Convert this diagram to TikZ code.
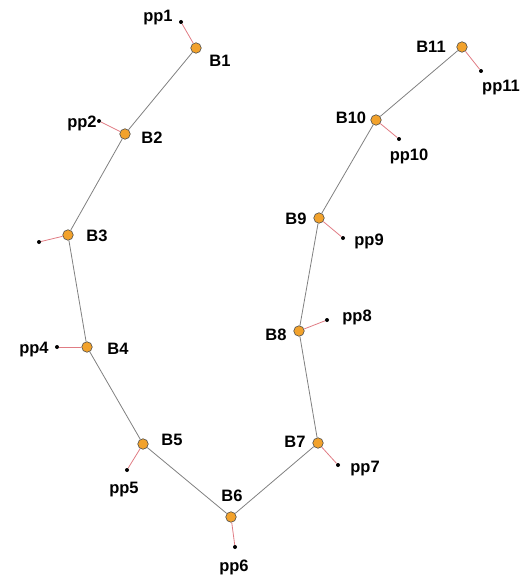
\documentclass[tikz,border=0pt]{standalone}
\usepackage{fontspec}
\setmainfont{Liberation Sans}
\usepackage{xcolor}
\usetikzlibrary{positioning, calc}

\definecolor{busorange}{HTML}{F2A22C}
\definecolor{linkred}{HTML}{E07C84}

\begin{document}
\begin{tikzpicture}[x=1pt, y=-1pt,
    bus/.style={circle, draw=black!70, fill=busorange, line width=0.6pt, inner sep=0pt, minimum size=10.5pt},
    pin/.style={circle, fill=black, inner sep=0pt, minimum size=4pt},
    lab/.style={font=\bfseries\fontsize{16.5}{16.5}\selectfont, inner sep=1pt}]
        \useasboundingbox (0,0) rectangle (525,578);

        \foreach \i/\x/\y in {1/196/48, 2/125/134, 3/68/235, 4/87/347, 5/143/444, 6/231/517,
                              7/318/443, 8/299/331, 9/319/218, 10/376/120, 11/462/47}
            \node[bus] (B\i) at (\x,\y) {};

        \foreach \i/\x/\y in {1/181/22, 2/99/121, 3/39/242, 4/57/347, 5/127/470, 6/235/547,
                              7/338/465, 8/327/320, 9/343/238, 10/399/139, 11/481/71}
            \node[pin] (pp\i) at (\x,\y) {};

        % line between the buses
        \foreach \i [evaluate=\i as \j using int(\i+1)] in {1,...,10}
            \draw[gray, line width=0.8pt] (B\i) -- (B\j);

        % pins to buses
        \foreach \i in {1,...,11}
            \draw[linkred, line width=0.8pt] (B\i) -- (pp\i);

        \foreach \i/\x/\y in {1/220/61, 2/152/138, 3/97/236, 4/118/349, 5/172/440, 6/232/496,
                              7/295/442, 8/276/335, 9/296/219, 10/351/118, 11/431/47}
            \node[lab] (lB\i) at (\x,\y) {B\i};

        \foreach \i/\x/\y in {1/158/18, 2/82/123, 4/34/350, 5/124/490, 6/234/567,
                              7/365/469, 8/357/317, 9/369/241, 10/409/156, 11/501/88}
            \node[lab] (lpp\i) at (\x,\y) {pp\i};
    \end{tikzpicture}
\end{document}
